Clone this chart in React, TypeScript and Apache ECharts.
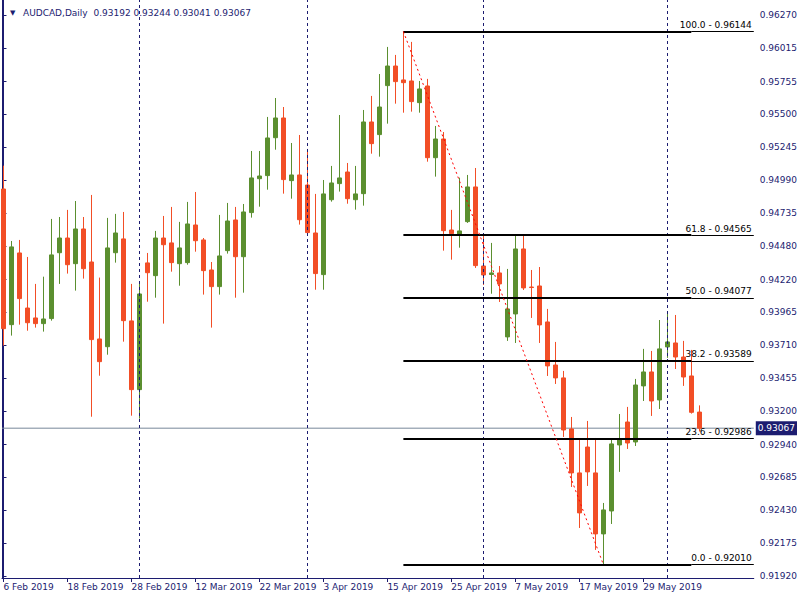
import React, { useEffect, useRef } from "react";
import * as echarts from "echarts";

// Trading days shown (Daily bars)
const MONTH_DAYS: [string, number[]][] = [
  ["Feb", [6, 7, 8, 11, 12, 13, 14, 15, 18, 19, 20, 21, 22, 25, 26, 27, 28]],
  ["Mar", [1, 4, 5, 6, 7, 8, 11, 12, 13, 14, 15, 18, 19, 20, 21, 22, 25, 26, 27, 28, 29]],
  ["Apr", [1, 2, 3, 4, 5, 8, 9, 10, 11, 12, 15, 16, 17, 18, 19, 22, 23, 24, 25, 26, 29, 30]],
  ["May", [1, 2, 3, 6, 7, 8, 9, 10, 13, 14, 15, 16, 17, 20, 21, 22, 23, 24, 27, 28, 29, 30, 31]],
  ["Jun", [3, 4, 5, 6, 7]],
];
const DATES: string[] = MONTH_DAYS.flatMap(([m, days]) => days.map((d) => `${d} ${m} 2019`));

const OPEN = [
  0.94922, 0.93870, 0.94426, 0.93999, 0.93922, 0.93878, 0.93917, 0.94428, 0.94542, 0.94343,
  0.94612, 0.94356, 0.93759, 0.93699, 0.94428, 0.94535, 0.93899, 0.93366, 0.94349, 0.94250,
  0.94542, 0.94504, 0.94343, 0.94351, 0.94643, 0.94527, 0.94294, 0.94165, 0.94444, 0.94682,
  0.94397, 0.94739, 0.95002, 0.95026, 0.95320, 0.95473, 0.94987, 0.95031, 0.94953, 0.94581,
  0.94258, 0.94839, 0.94964, 0.95054, 0.94839, 0.94886, 0.95442, 0.95344, 0.95724, 0.95876,
  0.95768, 0.95760, 0.95592, 0.95721, 0.95165, 0.95310, 0.94604, 0.94568, 0.94669, 0.94938,
  0.94325, 0.94259, 0.94271, 0.93775, 0.93953, 0.94457, 0.94162, 0.94170, 0.93891, 0.93557,
  0.93457, 0.93061, 0.92720, 0.92921, 0.92720, 0.92247, 0.92425, 0.92937, 0.93115, 0.92960,
  0.93395, 0.93503, 0.93286, 0.93697, 0.93728, 0.93619, 0.93472, 0.93192,
];
const CLOSE = [
  0.93839, 0.94473, 0.94072, 0.93885, 0.93878, 0.93914, 0.94411, 0.94542, 0.94335, 0.94612,
  0.94304, 0.93754, 0.93583, 0.94465, 0.94581, 0.93901, 0.93366, 0.94108, 0.94273, 0.94542,
  0.94490, 0.94351, 0.94465, 0.94651, 0.94521, 0.94289, 0.94165, 0.94403, 0.94674, 0.94397,
  0.94744, 0.95008, 0.95023, 0.95318, 0.95473, 0.94995, 0.95031, 0.94684, 0.94584, 0.94266,
  0.94884, 0.94969, 0.95008, 0.94847, 0.94884, 0.95442, 0.95274, 0.95558, 0.95876, 0.95755,
  0.95747, 0.95600, 0.95698, 0.95165, 0.95310, 0.94599, 0.94576, 0.94597, 0.94938, 0.94328,
  0.94255, 0.94271, 0.94186, 0.93992, 0.94457, 0.94155, 0.94158, 0.93868, 0.93550, 0.93457,
  0.93053, 0.92720, 0.92410, 0.92728, 0.92247, 0.92433, 0.92945, 0.92983, 0.92952, 0.93402,
  0.93503, 0.93278, 0.93682, 0.93736, 0.93619, 0.93464, 0.93190, 0.93067,
];
const LOW = [
  0.93707, 0.93785, 0.93870, 0.93823, 0.93847, 0.93816, 0.93901, 0.94186, 0.94266, 0.94134,
  0.94227, 0.93156, 0.93474, 0.93637, 0.94351, 0.93738, 0.93164, 0.93141, 0.94048, 0.94079,
  0.93878, 0.94281, 0.94172, 0.94335, 0.94436, 0.94103, 0.93847, 0.94103, 0.94421, 0.94079,
  0.94118, 0.94700, 0.94785, 0.94917, 0.95227, 0.94886, 0.94847, 0.94646, 0.94558, 0.94141,
  0.94141, 0.94824, 0.94902, 0.94808, 0.94762, 0.94793, 0.95196, 0.95173, 0.95429, 0.95584,
  0.95514, 0.95522, 0.95514, 0.95134, 0.95018, 0.94444, 0.94374, 0.94467, 0.94659, 0.94310,
  0.94178, 0.94110, 0.94046, 0.93744, 0.93728, 0.94139, 0.93922, 0.93728, 0.93472, 0.93410,
  0.92999, 0.92611, 0.92293, 0.92619, 0.92123, 0.92010, 0.92324, 0.92728, 0.92906, 0.92929,
  0.93278, 0.93162, 0.93216, 0.93612, 0.93526, 0.93395, 0.93180, 0.93041,
];
const HIGH = [
  0.95103, 0.94519, 0.94527, 0.94395, 0.94186, 0.94242, 0.94690, 0.94705, 0.94760, 0.94829,
  0.94705, 0.94876, 0.94235, 0.94698, 0.94729, 0.94744, 0.94186, 0.94186, 0.94426, 0.94597,
  0.94713, 0.94783, 0.94667, 0.94822, 0.94899, 0.94542, 0.94356, 0.94721, 0.94814, 0.94783,
  0.94806, 0.95217, 0.95217, 0.95481, 0.95628, 0.95558, 0.95279, 0.95341, 0.95233, 0.94884,
  0.94992, 0.95101, 0.95496, 0.95124, 0.95101, 0.95535, 0.95644, 0.95814, 0.96024, 0.95962,
  0.96144, 0.96063, 0.95760, 0.95776, 0.95411, 0.95364, 0.94760, 0.95010, 0.95031, 0.95085,
  0.94566, 0.94504, 0.94325, 0.94302, 0.94566, 0.94566, 0.94294, 0.94317, 0.93992, 0.93736,
  0.93511, 0.93154, 0.92976, 0.93123, 0.92991, 0.92487, 0.92976, 0.93177, 0.93232, 0.93449,
  0.93682, 0.93666, 0.93906, 0.93961, 0.93945, 0.93744, 0.93674, 0.93244,
];

const Y_TICKS = [
  0.9192, 0.92175, 0.9243, 0.92685, 0.9294, 0.932, 0.93455, 0.9371, 0.93965, 0.9422,
  0.9448, 0.94735, 0.9499, 0.95245, 0.955, 0.95755, 0.96015, 0.9627,
];
const X_TICKS = [0, 8, 16, 24, 32, 40, 48, 56, 64, 72, 80];
const SEPARATORS = [17, 38, 60, 83]; // first bar of Mar, Apr, May, Jun

const FIB_LEVELS = [100.0, 61.8, 50.0, 38.2, 23.6, 0.0];
const FIB_PRICES = [0.96144, 0.94565, 0.94077, 0.93589, 0.92986, 0.9201];
const FIB_START = 50; // 17 Apr 2019 high
const FIB_END = 75; // 22 May 2019 low
const FIB_THICK_END = 86;

const NAVY = "#1c1c70";
const GREEN = "#5b8f2f";
const RED = "#f24e26";
const FONT = "DejaVu Sans";
const X_MIN = -0.1875;
const X_MAX = 93.8125;

export default function App() {
  const ref = useRef<HTMLDivElement>(null);
  useEffect(() => {
    const chart = echarts.init(ref.current!, null, { renderer: "svg" });
    const n = OPEN.length;
    const last = n - 1;
    const candles = OPEN.map((o, i) => [i, o, CLOSE[i], LOW[i], HIGH[i]]);

    const markData: any[] = [];
    SEPARATORS.forEach((s) =>
      markData.push({
        xAxis: s,
        lineStyle: { color: NAVY, width: 1, type: [3, 3] },
        label: { show: false },
      })
    );
    FIB_LEVELS.forEach((lvl, k) => {
      const p = FIB_PRICES[k];
      markData.push([
        { coord: [FIB_START, p], lineStyle: { color: "#000", width: 2, type: "solid" }, label: { show: false } },
        { coord: [FIB_THICK_END, p] },
      ]);
      markData.push([
        {
          coord: [FIB_THICK_END, p],
          lineStyle: { color: "#000", width: 1, type: "solid" },
          label: {
            show: true,
            position: "insideEndTop",
            distance: 2,
            formatter: `${lvl.toFixed(1)} - ${p.toFixed(5)}`,
            color: "#000",
            fontFamily: FONT,
            fontSize: 9,
          },
        },
        { coord: [X_MAX, p] },
      ]);
    });
    markData.push([
      {
        coord: [FIB_START, FIB_PRICES[0]],
        lineStyle: { color: "#ff0000", width: 1, type: [2, 3] },
        label: { show: false },
      },
      { coord: [FIB_END, FIB_PRICES[FIB_PRICES.length - 1]] },
    ]);

    const fmt = (v: number) => v.toFixed(5);
    chart.setOption({
      animation: false,
      backgroundColor: "#ffffff",
      title: {
        text: `{t|▼}AUDCAD,Daily  ${fmt(OPEN[last])} ${fmt(HIGH[last])} ${fmt(LOW[last])} ${fmt(CLOSE[last])}`,
        left: 5,
        top: 3,
        textStyle: {
          fontFamily: FONT,
          fontSize: 9,
          fontWeight: "normal",
          color: NAVY,
          rich: { t: { fontSize: 7, width: 13, color: NAVY } },
        },
      },
      grid: { left: 2, right: 46, top: 0, bottom: 22, containLabel: false },
      xAxis: {
        type: "value",
        min: X_MIN,
        max: X_MAX,
        axisLine: { show: true, lineStyle: { color: NAVY, width: 1 } },
        axisTick: { show: true, customValues: X_TICKS, length: 4, lineStyle: { color: NAVY } },
        axisLabel: {
          customValues: X_TICKS,
          formatter: (v: number) => DATES[Math.round(v)] ?? "",
          align: "left",
          margin: 4,
          color: NAVY,
          fontFamily: FONT,
          fontSize: 9,
        },
        splitLine: { show: false },
      },
      yAxis: {
        type: "value",
        position: "right",
        min: 0.91905,
        max: 0.96388,
        scale: true,
        axisLine: { show: true, lineStyle: { color: NAVY, width: 1 } },
        axisTick: { show: true, customValues: Y_TICKS, length: 3, lineStyle: { color: NAVY } },
        axisLabel: {
          customValues: Y_TICKS,
          formatter: (v: number) => v.toFixed(5),
          margin: 6,
          color: NAVY,
          fontFamily: FONT,
          fontSize: 9,
        },
        splitLine: { show: false },
      },
      graphic: [
        {
          type: "line",
          shape: { x1: 2.5, y1: 0, x2: 2.5, y2: 578 },
          style: { stroke: NAVY, lineWidth: 1 },
          silent: true,
        },
      ],
      series: [
        {
          type: "line",
          data: [
            [X_MIN, CLOSE[last]],
            [X_MAX, CLOSE[last]],
          ],
          symbol: "none",
          z: 1,
          silent: true,
          lineStyle: { color: "#778899", width: 1 },
          endLabel: {
            show: true,
            formatter: () => CLOSE[last].toFixed(5),
            color: "#ffffff",
            backgroundColor: NAVY,
            padding: [3, 2, 2, 2],
            distance: 2,
            fontFamily: FONT,
            fontSize: 9,
          },
        },
        {
          type: "candlestick",
          data: candles,
          barWidth: 4,
          z: 2,
          itemStyle: {
            color: GREEN,
            color0: RED,
            borderColor: GREEN,
            borderColor0: RED,
            borderWidth: 1,
          },
          markLine: {
            silent: true,
            symbol: ["none", "none"],
            animation: false,
            data: markData,
          },
        },
      ],
    });
    return () => chart.dispose();
  }, []);
  return <div ref={ref} style={{ position: "absolute", left: 0, top: 0, width: 800, height: 600 }} />;
}
